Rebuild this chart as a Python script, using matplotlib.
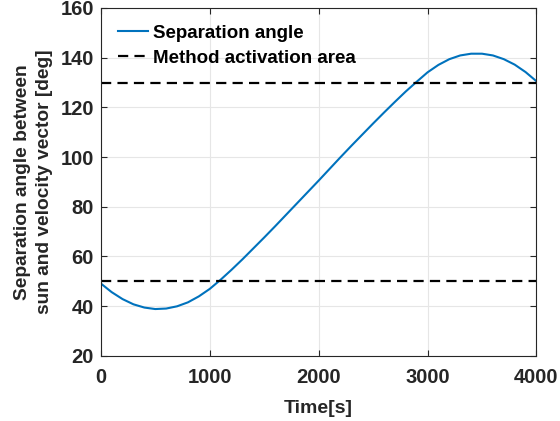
import numpy as np
import matplotlib
matplotlib.use("Agg")
import matplotlib.pyplot as plt

# ─────────────────────────────────────────────────────────────
# DATA
# ─────────────────────────────────────────────────────────────
time_s = [0, 100, 200, 300, 400, 500, 600, 700, 800, 900,
          1000, 1100, 1200, 1300, 1400, 1500, 1600, 1700, 1800, 1900,
          2000, 2100, 2200, 2300, 2400, 2500, 2600, 2700, 2800, 2900,
          3000, 3100, 3200, 3300, 3400, 3500, 3600, 3700, 3800, 3900,
          4000]
sep_angle = [49.1, 45.6, 42.8, 40.7, 39.4, 38.8, 39.0, 39.9, 41.5, 43.9,
             46.9, 50.6, 54.6, 58.8, 63.2, 67.6, 72.1, 76.7, 81.3, 85.9,
             90.5, 95.2, 99.9, 104.5, 109.0, 113.5, 117.9, 122.2, 126.4, 130.3,
             134.1, 137.1, 139.4, 140.9, 141.6, 141.6, 140.9, 139.4, 137.2, 134.2,
             130.5]
activation_bounds = [50, 130]

x_ticks = [0, 1000, 2000, 3000, 4000]
y_ticks = [20, 40, 60, 80, 100, 120, 140, 160]

# ─────────────────────────────────────────────────────────────
# STYLE
# ─────────────────────────────────────────────────────────────
plt.rcParams["font.family"] = ["Liberation Sans", "DejaVu Sans"]
plt.rcParams["font.weight"] = "bold"
TXT = "#262626"
BLUE = "#0072BD"

fig = plt.figure(figsize=(5.6, 4.21), dpi=100)
ax = fig.add_axes([0.180, 0.155, 0.778, 0.826])

ax.plot(time_s, sep_angle, color=BLUE, linewidth=1.5, label="Separation angle")
for i, b in enumerate(activation_bounds):
    ax.axhline(b, color="black", linestyle=(0, (4.6, 2.8)), linewidth=1.6,
               label="Method activation area" if i == 0 else None)

ax.set_xlim(0, 4000)
ax.set_ylim(20, 160)
ax.set_xticks(x_ticks)
ax.set_yticks(y_ticks)
ax.tick_params(direction="in", length=4, width=0.8, colors="#262626",
               labelsize=14.5, top=True, right=True)
ax.tick_params(axis="x", pad=9)
ax.tick_params(axis="y", pad=5)
for lbl in ax.get_xticklabels() + ax.get_yticklabels():
    lbl.set_fontweight("bold")
    lbl.set_color(TXT)
for sp in ax.spines.values():
    sp.set_color("#262626")
    sp.set_linewidth(0.8)
ax.grid(True, color="#e6e6e6", linewidth=0.8)
ax.set_axisbelow(True)

ax.set_xlabel("Time[s]", fontsize=14, fontweight="bold", color=TXT, labelpad=9)
ax.set_ylabel("Separation angle between\nsun and velocity vector [deg]",
              fontsize=13.8, fontweight="bold", color=TXT, labelpad=5,
              linespacing=1.45)

leg = ax.legend(loc="upper left", frameon=False, fontsize=13.5,
                handlelength=1.6, handletextpad=0.3, borderaxespad=0.1,
                labelspacing=0.4, borderpad=0.8)
for t in leg.get_texts():
    t.set_fontweight("bold")
    t.set_color("black")

fig.savefig("out.png", dpi=100)
